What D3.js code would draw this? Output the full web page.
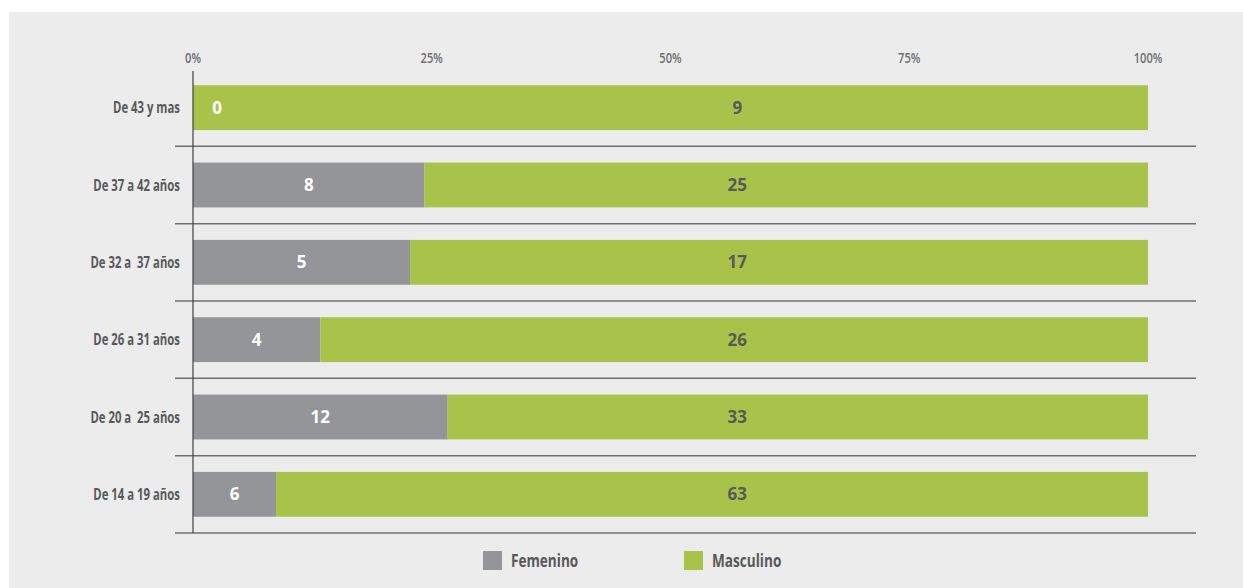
<!DOCTYPE html>
<html>
<head>
<meta charset="utf-8">
<script src="https://cdn.jsdelivr.net/npm/d3@7"></script>
<style>
  body { margin: 0; background: #fff; }
  svg text { font-family: "Open Sans", sans-serif; white-space: pre; }
</style>
</head>
<body>
<div id="chart"></div>
<script>
// age groups (top to bottom)
let categories = ['De 43 y mas', 'De 37 a 42 años', 'De 32 a  37 años', 'De 26 a 31 años', 'De 20 a  25 años', 'De 14 a 19 años'];
// counts per group
let femenino = [0, 8, 5, 4, 12, 6];
let masculino = [9, 25, 17, 26, 33, 63];
let tickValues = [0, 0.25, 0.5, 0.75, 1];
let tickLabels = ['0%', '25%', '50%', '75%', '100%'];
let seriesNames = ['Femenino', 'Masculino'];

let W = 1243, H = 588;
let gray = '#939598', green = '#a9c34a', textColor = '#58595b';

// no condensed font installed, so squeeze text horizontally
function squeeze(px, py, s) {
    return 'translate(' + px + ',' + py + ') scale(' + s + ',1)';
}

let svg = d3.select('#chart').append('svg')
    .attr('width', W)
    .attr('height', H);

// light panel
svg.append('rect')
    .attr('x', 9).attr('y', 12)
    .attr('width', W - 9).attr('height', H - 12)
    .attr('fill', '#ececec');

let x = d3.scaleLinear().domain([0, 1]).range([193, 1148]);
let y = d3.scaleBand().domain(categories).range([69, 533]).paddingInner(0.42).paddingOuter(0.21);
let step = y.step();

let rows = categories.map(function(c, i) {
    let total = femenino[i] + masculino[i];
    return {cat: c, f: femenino[i], m: masculino[i], share: femenino[i] / total};
});

// separator lines under every row
svg.selectAll('.sep')
    .data(categories)
    .enter().append('line')
    .attr('class', 'sep')
    .attr('x1', 175).attr('x2', 1196)
    .attr('y1', function(d) { return y(d) - step * 0.21 + step; })
    .attr('y2', function(d) { return y(d) - step * 0.21 + step; })
    .attr('stroke', '#6d6e71')
    .attr('stroke-width', 1.5);

// femenino bars
svg.selectAll('.fem')
    .data(rows)
    .enter().append('rect')
    .attr('class', 'fem')
    .attr('x', x(0))
    .attr('y', function(d) { return y(d.cat); })
    .attr('width', function(d) { return x(d.share) - x(0); })
    .attr('height', y.bandwidth())
    .attr('fill', gray);

// masculino bars
svg.selectAll('.mas')
    .data(rows)
    .enter().append('rect')
    .attr('class', 'mas')
    .attr('x', function(d) { return x(d.share); })
    .attr('y', function(d) { return y(d.cat); })
    .attr('width', function(d) { return x(1) - x(d.share); })
    .attr('height', y.bandwidth())
    .attr('fill', green);

// vertical axis line
svg.append('line')
    .attr('x1', x(0)).attr('x2', x(0))
    .attr('y1', 71).attr('y2', 533)
    .attr('stroke', '#414042')
    .attr('stroke-width', 1.2);

// top tick labels
svg.selectAll('.tick')
    .data(tickValues)
    .enter().append('text')
    .attr('class', 'tick')
    .attr('transform', function(d) { return squeeze(x(d), 63, 0.74); })
    .attr('text-anchor', 'middle')
    .attr('font-size', 15)
    .attr('font-weight', 600)
    .attr('fill', '#6d6e71')
    .text(function(d, i) { return tickLabels[i]; });

// category labels
svg.selectAll('.cat')
    .data(categories)
    .enter().append('text')
    .attr('class', 'cat')
    .attr('transform', function(d) { return squeeze(180, y(d) + y.bandwidth() / 2, 0.71); })
    .attr('dy', '0.36em')
    .attr('text-anchor', 'end')
    .attr('font-size', 16)
    .attr('font-weight', 'bold')
    .attr('fill', textColor)
    .text(function(d) { return d; });

// value labels
svg.selectAll('.fval')
    .data(rows)
    .enter().append('text')
    .attr('class', 'fval')
    .attr('x', function(d) { return Math.max((x(0) + x(d.share)) / 2, x(0) + 24); })
    .attr('y', function(d) { return y(d.cat) + y.bandwidth() / 2; })
    .attr('dy', '0.36em')
    .attr('text-anchor', 'middle')
    .attr('font-size', 17)
    .attr('font-weight', 'bold')
    .attr('fill', '#fff')
    .text(function(d) { return d.f; });

svg.selectAll('.mval')
    .data(rows)
    .enter().append('text')
    .attr('class', 'mval')
    .attr('x', x(0.57))
    .attr('y', function(d) { return y(d.cat) + y.bandwidth() / 2; })
    .attr('dy', '0.36em')
    .attr('text-anchor', 'middle')
    .attr('font-size', 17)
    .attr('font-weight', 'bold')
    .attr('fill', textColor)
    .text(function(d) { return d.m; });

// legend
let legend = svg.selectAll('.legend')
    .data(seriesNames)
    .enter().append('g')
    .attr('class', 'legend')
    .attr('transform', function(d, i) { return 'translate(' + (483 + i * 201) + ',551)'; });

legend.append('rect')
    .attr('width', 19).attr('height', 19)
    .attr('fill', function(d, i) { return i === 0 ? gray : green; });

legend.append('text')
    .attr('transform', squeeze(28, 10, 0.8))
    .attr('dy', '0.36em')
    .attr('font-size', 17)
    .attr('font-weight', 'bold')
    .attr('fill', textColor)
    .text(function(d) { return d; });
</script>
</body>
</html>
